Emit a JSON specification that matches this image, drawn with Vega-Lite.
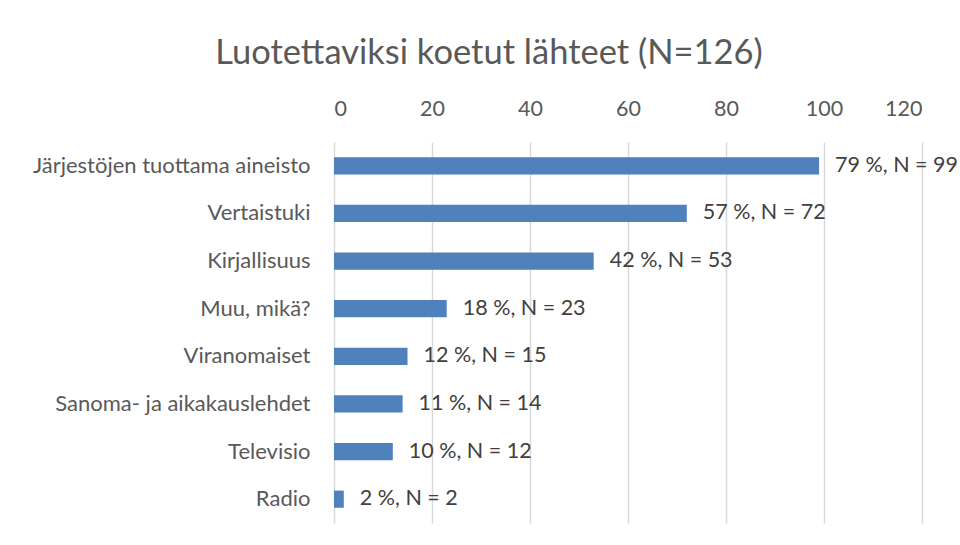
{
  "$schema": "https://vega.github.io/schema/vega-lite/v6.json",
  "autosize": "none",
  "width": 588,
  "height": 381,
  "padding": {"left": 334, "top": 142, "right": 38, "bottom": 22},
  "background": "white",
  "title": {
    "text": "Luotettaviksi koetut lähteet (N=126)",
    "font": "Lato",
    "fontSize": 34.5,
    "fontWeight": "normal",
    "color": "#595959",
    "anchor": "middle",
    "dx": -139,
    "offset": 27
  },
  "data": {
    "values": [
      {"lahde": "Järjestöjen tuottama aineisto", "n": 99, "label": "79 %, N = 99"},
      {"lahde": "Vertaistuki", "n": 72, "label": "57 %, N = 72"},
      {"lahde": "Kirjallisuus", "n": 53, "label": "42 %, N = 53"},
      {"lahde": "Muu, mikä?", "n": 23, "label": "18 %, N = 23"},
      {"lahde": "Viranomaiset", "n": 15, "label": "12 %, N = 15"},
      {"lahde": "Sanoma- ja aikakauslehdet", "n": 14, "label": "11 %, N = 14"},
      {"lahde": "Televisio", "n": 12, "label": "10 %, N = 12"},
      {"lahde": "Radio", "n": 2, "label": "2 %, N = 2"}
    ]
  },
  "encoding": {
    "y": {
      "field": "lahde",
      "type": "nominal",
      "sort": null,
      "title": null,
      "scale": {"paddingInner": 0.64, "paddingOuter": 0.32},
      "axis": {
        "domain": false,
        "ticks": false,
        "labelFont": "Lato",
        "labelFontSize": 22,
        "labelColor": "#595959",
        "labelPadding": 24,
        "labelLimit": 400
      }
    },
    "x": {
      "field": "n",
      "type": "quantitative",
      "title": null,
      "scale": {"domain": [0, 120]},
      "axis": {
        "orient": "top",
        "values": [0, 20, 40, 60, 80, 100, 120],
        "domain": false,
        "ticks": false,
        "grid": true,
        "gridColor": "#d9d9d9",
        "gridWidth": 1.5,
        "labelFont": "Lato",
        "labelFontSize": 21.5,
        "labelColor": "#595959",
        "labelPadding": 22
      }
    }
  },
  "layer": [
    {"mark": {"type": "bar", "color": "#4F81BD"}},
    {
      "mark": {"type": "text", "align": "left", "baseline": "middle", "dx": 16, "font": "Lato", "fontSize": 21.5, "color": "#404040"},
      "encoding": {"text": {"field": "label"}}
    }
  ],
  "config": {"view": {"stroke": null}}
}
